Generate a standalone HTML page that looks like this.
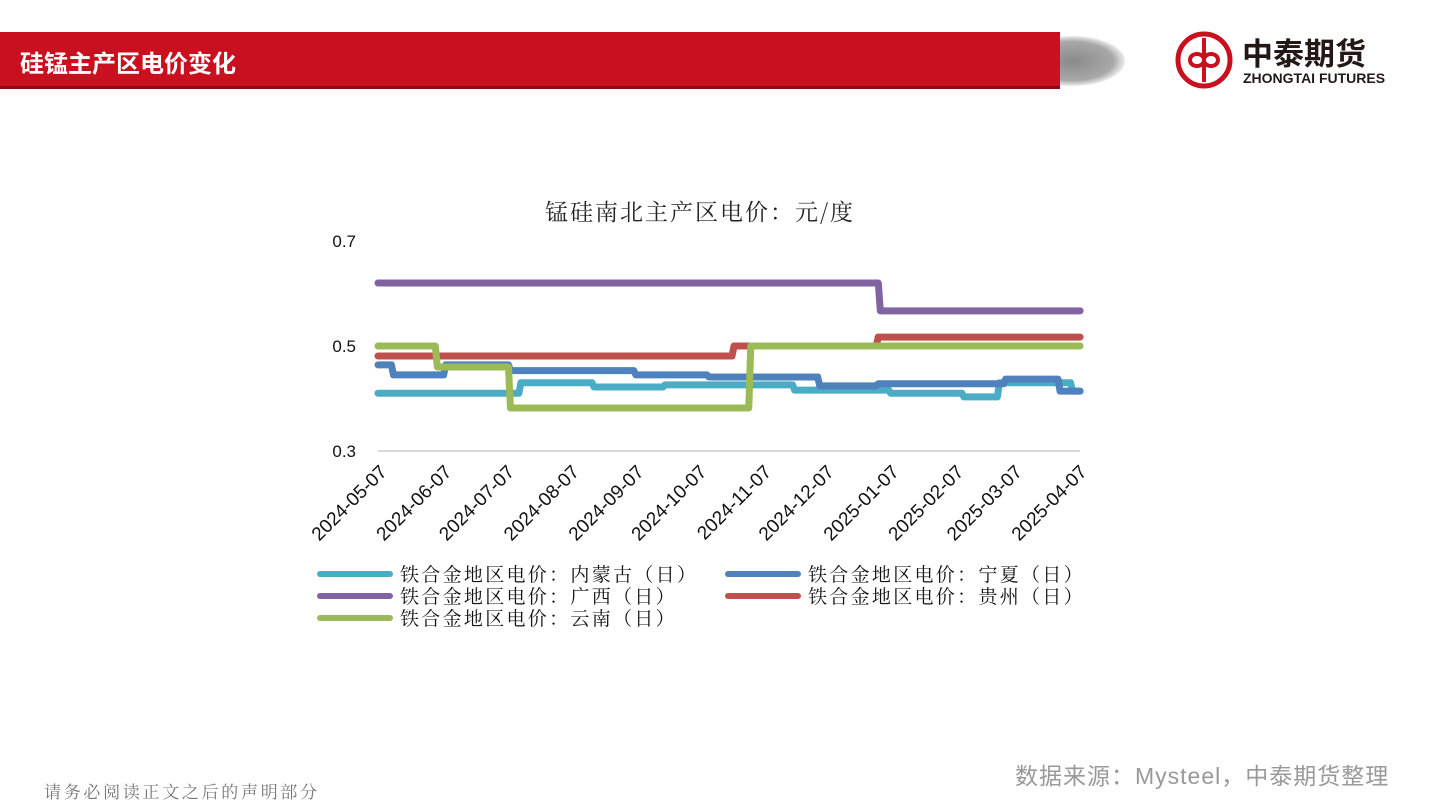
<!DOCTYPE html>
<html><head><meta charset="utf-8">
<style>
body{margin:0;width:1440px;height:810px;background:#fff;position:relative;overflow:hidden;font-family:"Liberation Sans","Noto Sans CJK SC",sans-serif;}
.abs{position:absolute;}
</style></head>
<body>
<div class="abs" style="left:1020px;top:36px;width:105px;height:50px;border-radius:50%;background:radial-gradient(ellipse at 50% 50%,#8a8a8a 0%,#a8a8a8 55%,rgba(255,255,255,0) 75%);"></div>
<div class="abs" style="left:0;top:32px;width:1060px;height:54px;background:#c8101e;border-bottom:3px solid #8e0b14;"></div>
<div class="abs" style="left:20px;top:44px;color:#fff;font-size:24px;font-weight:bold;">硅锰主产区电价变化</div>
<svg class="abs" style="left:1170px;top:28px" width="240" height="64">
<circle cx="34" cy="32" r="26" fill="none" stroke="#c8101e" stroke-width="5"/>
<path d="M34 10 V54 M20 32 c0-8 14-8 14 0 c0 8 14 8 14 0 c0-8-14-8-14 0 c0 8-14 8-14 0" fill="none" stroke="#c8101e" stroke-width="4"/>
<text x="72" y="37" font-size="31" font-weight="bold" fill="#231815" font-family="Noto Sans CJK SC,sans-serif">中泰期货</text>
<text x="73" y="55" font-size="14" font-weight="bold" fill="#231815" font-family="Liberation Sans,sans-serif">ZHONGTAI FUTURES</text>
</svg>
<svg class="abs" id="chart" style="left:0;top:0" width="1440" height="810"></svg>
<div class="abs" style="left:1015px;top:757px;font-size:23px;color:#999;letter-spacing:1px;">数据来源：Mysteel，中泰期货整理</div>
<div class="abs" style="left:44px;top:778px;font-size:17px;color:#777;font-family:'Noto Serif CJK SC',serif;letter-spacing:2.7px;">请务必阅读正文之后的声明部分</div>
<script>
const seriesNames=["铁合金地区电价：内蒙古（日）","铁合金地区电价：宁夏（日）","铁合金地区电价：广西（日）","铁合金地区电价：贵州（日）","铁合金地区电价：云南（日）"];
const seriesColors=["#4bacc6","#4f81bd","#8064a2","#c0504d","#9bbb59"];
const tickLabels=["2024-05-07","2024-06-07","2024-07-07","2024-08-07","2024-09-07","2024-10-07","2024-11-07","2024-12-07","2025-01-07","2025-02-07","2025-03-07","2025-04-07"];
const yTicks=[0.3,0.5,0.7];
const endDate="2025-04-08";
const nmgDates=["2024-05-07","2024-07-12","2024-08-16","2024-09-19","2024-11-20","2025-01-05","2025-02-09","2025-02-26","2025-04-02"];
const nmgVals=[0.410,0.430,0.422,0.426,0.416,0.410,0.403,0.430,0.414];
const nxDates=["2024-05-07","2024-05-12","2024-06-06","2024-07-07","2024-09-05","2024-10-10","2024-12-02","2024-12-30","2025-03-01","2025-03-27"];
const nxVals=[0.464,0.445,0.464,0.453,0.445,0.441,0.424,0.428,0.437,0.414];
const gxDates=["2024-05-07","2024-12-31"];
const gxVals=[0.620,0.567];
const gzDates=["2024-05-07","2024-10-22","2024-12-30"];
const gzVals=[0.481,0.500,0.517];
const ynDates=["2024-05-07","2024-06-02","2024-07-07","2024-10-30"];
const ynVals=[0.500,0.460,0.382,0.500];

const svg=document.getElementById('chart');
const NS='http://www.w3.org/2000/svg';
const t0=new Date("2024-05-07").getTime();
const day=d=>(new Date(d).getTime()-t0)/86400000;
const X=d=>378+day(d)*700/335;
const Y=v=>451-(v-0.3)*525;
function mk(tag,attrs,txt){const e=document.createElementNS(NS,tag);for(const k in attrs)e.setAttribute(k,attrs[k]);if(txt!==undefined)e.textContent=txt;svg.appendChild(e);return e;}
const title=mk('text',{x:700,y:220,'text-anchor':'middle','font-size':23,'letter-spacing':2,fill:'#222','font-family':'Noto Serif CJK SC,serif'},'锰硅南北主产区电价：元/度');


const ax=mk('line',{x1:378,x2:1080,y1:Y(0.3),y2:Y(0.3),stroke:'#d9d9d9','stroke-width':2});


yTicks.forEach(v=>{const t=mk('text',{x:356,y:Y(v)+6,'text-anchor':'end','font-size':17,fill:'#111'},v.toFixed(1));

});
tickLabels.forEach(d=>{const x=X(d)+10,y=Y(0.3)+22;const t=mk('text',{x:x,y:y,'text-anchor':'end','font-size':19,fill:'#111',transform:`rotate(-45 ${x} ${y})`},d);

});
const all=[[nmgDates,nmgVals],[nxDates,nxVals],[gxDates,gxVals],[gzDates,gzVals],[ynDates,ynVals]];
const order=[2,3,0,1,4];
order.forEach(i=>{const [ds,vs]=all[i];let p='';
ds.forEach((d,j)=>{const x=X(d),y=Y(vs[j]);if(j===0)p+=`M${x} ${y}`;else p+=`L${x+3} ${Y(vs[j-1])}L${x+5} ${y}`;});
p+=`L${X(endDate)} ${Y(vs[vs.length-1])}`;
const l=mk('path',{d:p,fill:'none',stroke:seriesColors[i],'stroke-width':7,'stroke-linejoin':'round','stroke-linecap':'round'});

});
const legPos=[[320,574],[728,574],[320,596],[728,596],[320,618]];
seriesNames.forEach((n,i)=>{const [x,y]=legPos[i];
const s=mk('line',{x1:x,x2:x+70,y1:y,y2:y,stroke:seriesColors[i],'stroke-width':6,'stroke-linecap':'round'});


const t=mk('text',{x:x+80,y:y+7,'font-size':19,'letter-spacing':2.3,fill:'#111','font-family':'Noto Serif CJK SC,serif'},n);

});
</script>
</body></html>
